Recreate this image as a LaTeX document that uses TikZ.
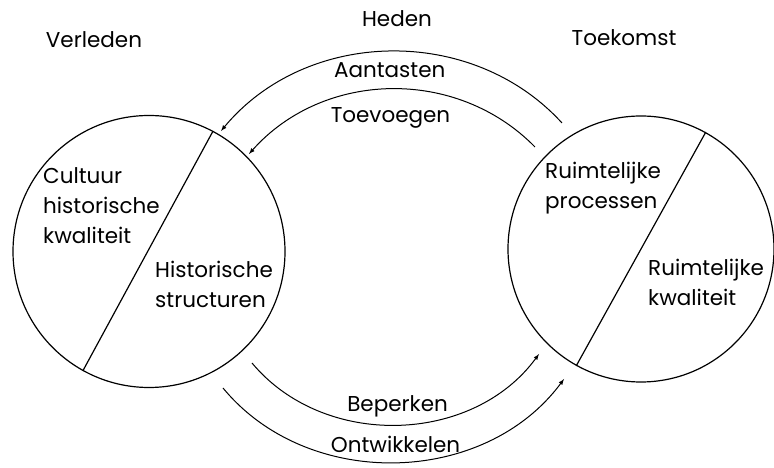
\documentclass[tikz,border=0pt]{standalone}
\usepackage{fontspec}
\setmainfont{Poppins}
\usetikzlibrary{positioning,arrows}

\tikzset {
    era/.style={
        draw=black,
        line width=1.2pt,
        circle, % both time circles
        minimum size=272pt,
    },
    inside text/.style={
        inner sep=0pt,
        anchor=north west,
        align=left,
    },
    action/.style={
        inner sep=0pt,
    },
    flow/.style={
        line width=1pt,
        -latex,
    },
}

\begin{document}
\begin{tikzpicture}
        [x=1pt, y=1pt, font=\fontsize{21.5}{30}\selectfont]
        \useasboundingbox (0,0) rectangle (774,468);

        \node at (94, 428) (verleden) {Verleden};
        \node at (397, 449) (heden) {Heden};
        \node at (624, 430) (toekomst) {Toekomst};

        \node[era] at (149, 216.5) (past) {};
        \node[era, minimum size=266pt] at (641, 219) (future) {};
        \draw[line width=1.2pt] (past.62) -- (past.241);
        \draw[line width=1.2pt] (future.61) -- (future.241);

        \node[inside text] at (43, 301) (cultQual) {Cultuur\\historische\\kwaliteit};
        \node[inside text] at (155, 207) (histStruct) {Historische\\structuren};
        \node[inside text] at (545, 306) (spatProc) {Ruimtelijke\\processen};
        \node[inside text] at (648, 209) (spatQual) {Ruimtelijke\\kwaliteit};

        \coordinate (aFrom) at (562, 345);
        \coordinate (aTo) at (221, 337);
        \coordinate (tFrom) at (535, 321);
        \coordinate (tTo) at (249, 314);
        \coordinate (bFrom) at (252, 105);
        \coordinate (bTo) at (539, 114);
        \coordinate (oFrom) at (223, 80);
        \coordinate (oTo) at (564, 89);

        \draw[flow] (aFrom) to[bend right=49] node[action, midway, below=11pt] (aantasten) {Aantasten} (aTo);
        \draw[flow] (tFrom) to[bend right=47] node[action, midway, below=18pt] (toevoegen) {Toevoegen} (tTo);
        \draw[flow] (bFrom) to[bend right=52] node[action, midway, above=7pt] (beperken) {Beperken} (bTo);
        \draw[flow] (oFrom) to[bend right=52] node[action, midway, above=9pt] (ontwikkelen) {Ontwikkelen} (oTo);
    \end{tikzpicture}
\end{document}
